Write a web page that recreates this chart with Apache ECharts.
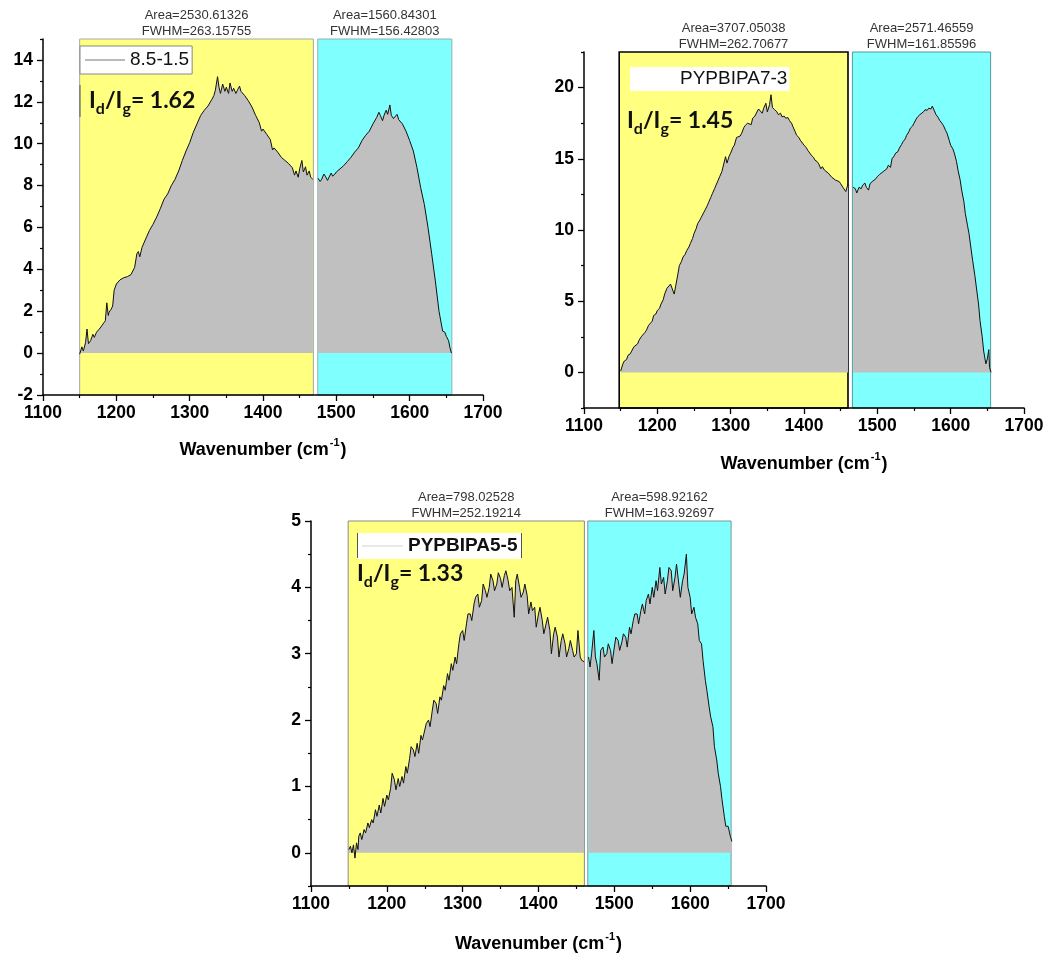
<!DOCTYPE html>
<html>
<head>
<meta charset="utf-8">
<script src="https://cdn.jsdelivr.net/npm/echarts@6/dist/echarts.min.js"></script>
<style>
  html, body { margin: 0; padding: 0; background: #fff; }
  #chart { width: 1049px; height: 956px; }
</style>
</head>
<body>
<div id="chart"></div>
<script>
// Raman spectra: [wavenumber (cm-1), intensity]
const spectrum1 = [
  [1150,-0.05],[1153,0.3],[1155,0.1],[1158,0.5],[1160,1.15],[1162,0.45],[1165,0.6],[1168,0.9],[1170,0.75],[1173,1.0],
  [1175,0.95],[1178,1.2],[1180,1.3],[1183,1.45],[1185,1.55],[1187,2.4],[1189,1.8],[1190,1.95],[1193,2.1],[1195,2.25],
  [1197,3.0],[1200,3.3],[1205,3.5],[1210,3.6],[1215,3.65],[1220,3.75],[1225,4.1],[1228,4.75],[1230,4.85],[1232,4.6],
  [1235,5.05],[1240,5.45],[1245,5.85],[1250,6.15],[1255,6.5],[1260,6.9],[1265,7.35],[1270,7.6],[1275,8.0],[1280,8.3],
  [1285,8.7],[1290,9.2],[1295,9.65],[1300,10.05],[1305,10.55],[1310,10.95],[1315,11.35],[1320,11.6],[1325,11.8],[1330,12.1],
  [1333,12.3],[1335,12.55],[1338,13.2],[1340,12.7],[1342,12.4],[1345,12.85],[1348,12.5],[1350,12.7],[1353,12.4],[1355,12.9],
  [1358,12.5],[1360,12.65],[1363,12.4],[1365,12.55],[1368,12.75],[1370,12.5],[1375,12.3],[1380,12.05],[1385,11.75],[1390,11.35],
  [1395,11.0],[1398,10.6],[1400,10.7],[1405,10.45],[1410,10.2],[1413,9.7],[1415,9.8],[1420,9.6],[1425,9.35],[1430,9.2],
  [1435,9.05],[1440,8.85],[1443,8.5],[1445,8.7],[1448,8.4],[1450,8.8],[1453,9.2],[1455,8.65],[1458,8.9],[1460,8.5],
  [1463,8.7],[1465,8.4],[1468,8.3],
  [1475,8.35],[1478,8.2],[1480,8.3],[1483,8.55],[1485,8.45],[1488,8.25],[1490,8.4],[1493,8.6],[1495,8.45],[1498,8.55],
  [1500,8.65],[1505,8.8],[1510,8.95],[1515,9.15],[1520,9.35],[1525,9.6],[1530,9.8],[1535,10.15],[1540,10.4],[1545,10.6],
  [1550,10.95],[1555,11.25],[1558,11.5],[1560,11.35],[1563,11.1],[1565,11.35],[1568,11.6],[1570,11.4],[1573,11.85],[1575,11.35],
  [1578,11.2],[1580,11.3],[1583,11.4],[1585,11.15],[1590,10.95],[1595,10.6],[1600,10.15],[1605,9.65],[1610,8.85],[1615,7.9],
  [1620,7.1],[1625,6.0],[1630,4.75],[1635,3.45],[1640,2.0],[1645,1.05],[1648,1.0],[1650,0.8],[1653,0.6],[1655,0.25],[1657,0.0]
];
const spectrum2 = [
  [1150,0.1],[1153,0.6],[1155,0.8],[1158,0.9],[1160,1.2],[1163,1.3],[1165,1.5],[1168,1.8],[1170,1.9],[1173,2.0],
  [1175,2.25],[1178,2.5],[1180,2.6],[1183,2.8],[1185,2.95],[1188,3.3],[1190,3.4],[1193,3.6],[1195,4.0],[1198,4.1],
  [1200,4.35],[1203,4.5],[1205,4.8],[1208,5.1],[1210,5.5],[1213,5.9],[1215,5.85],[1218,6.2],[1220,6.1],[1223,5.5],
  [1225,5.4],[1228,6.9],[1230,7.5],[1233,7.8],[1235,8.1],[1238,8.3],[1240,8.55],[1243,8.8],[1245,9.05],[1248,9.4],
  [1250,9.75],[1253,10.1],[1255,10.45],[1258,10.7],[1260,10.9],[1263,11.2],[1265,11.4],[1268,11.7],[1270,11.95],[1273,12.3],
  [1275,12.55],[1278,12.9],[1280,13.15],[1283,13.5],[1285,13.75],[1288,14.1],[1290,14.2],[1293,15.15],[1295,14.7],[1298,15.2],
  [1300,15.4],[1303,15.8],[1305,15.95],[1308,16.5],[1310,16.45],[1313,16.6],[1315,16.8],[1318,17.2],[1320,17.35],[1323,17.5],
  [1325,17.6],[1328,17.4],[1330,17.85],[1333,18.0],[1335,18.1],[1338,18.5],[1340,18.45],[1343,18.2],[1345,18.55],[1348,18.9],
  [1350,18.3],[1353,18.8],[1355,19.5],[1357,18.6],[1360,18.45],[1363,18.3],[1365,18.1],[1368,18.2],[1370,17.95],[1373,18.0],
  [1375,17.85],[1378,17.9],[1380,17.7],[1383,17.5],[1385,17.25],[1388,16.9],[1390,16.65],[1393,16.5],[1395,16.3],[1398,16.1],
  [1400,15.95],[1403,15.8],[1405,15.6],[1408,15.4],[1410,15.25],[1413,15.1],[1415,14.9],[1418,14.8],[1420,14.65],[1423,14.3],
  [1425,14.45],[1428,14.2],[1430,14.1],[1433,14.0],[1435,13.95],[1438,13.7],[1440,13.75],[1443,13.5],[1445,13.6],[1448,13.4],
  [1450,13.25],[1453,13.0],[1455,12.9],[1457,12.7],[1460,13.25],
  [1467,13.0],[1470,12.9],[1472,12.6],[1475,13.0],[1478,12.9],[1480,13.15],[1483,13.3],[1485,13.0],[1488,12.8],[1490,13.25],
  [1493,13.4],[1495,13.5],[1498,13.6],[1500,13.75],[1503,13.9],[1505,13.95],[1508,14.1],[1510,14.2],[1513,14.3],[1515,14.55],
  [1518,14.4],[1520,15.0],[1523,15.2],[1525,15.4],[1528,15.5],[1530,15.75],[1533,16.0],[1535,16.2],[1538,16.4],[1540,16.65],
  [1543,16.9],[1545,17.15],[1548,17.3],[1550,17.5],[1553,17.8],[1555,17.95],[1558,18.1],[1560,18.2],[1563,18.3],[1565,18.45],
  [1568,18.4],[1570,18.55],[1573,18.5],[1575,18.7],[1577,18.8],[1580,18.1],[1583,17.9],[1585,17.7],[1588,17.5],[1590,17.35],
  [1593,17.0],[1595,16.8],[1598,16.3],[1600,15.95],[1603,15.7],[1605,15.4],[1608,14.8],[1610,14.2],[1613,13.5],[1615,12.8],
  [1618,12.0],[1620,11.15],[1623,10.3],[1625,9.75],[1628,8.6],[1630,7.85],[1633,6.8],[1635,6.0],[1638,4.8],[1640,3.65],
  [1643,2.5],[1645,1.5],[1648,0.6],[1650,0.95],[1652,1.6],[1653,0.35],[1655,0.0]
];
const spectrum3 = [
  [1150,0.05],[1152,0.1],[1154,0.0],[1156,0.12],[1158,-0.08],[1160,0.15],[1162,0.05],[1163,0.25],[1165,0.3],[1167,0.2],
  [1170,0.35],[1172,0.3],[1175,0.45],[1177,0.38],[1180,0.5],[1182,0.45],[1185,0.65],[1187,0.55],[1190,0.72],[1192,0.6],
  [1195,0.82],[1197,0.7],[1200,0.87],[1202,0.8],[1205,0.97],[1207,1.2],[1210,1.1],[1212,0.95],[1215,1.12],[1217,1.0],
  [1220,1.15],[1222,1.05],[1225,1.3],[1227,1.2],[1230,1.42],[1232,1.6],[1235,1.55],[1237,1.45],[1240,1.65],[1242,1.5],
  [1245,1.77],[1247,1.7],[1250,1.85],[1252,1.95],[1255,2.0],[1257,1.9],[1260,2.15],[1262,2.3],[1265,2.25],[1267,2.1],
  [1270,2.35],[1272,2.3],[1275,2.52],[1277,2.45],[1280,2.7],[1282,2.6],[1285,2.85],[1287,2.75],[1290,2.95],[1292,2.85],
  [1295,3.15],[1297,3.3],[1300,3.35],[1302,3.2],[1305,3.45],[1307,3.6],[1310,3.6],[1312,3.5],[1315,3.75],[1317,3.85],
  [1320,3.9],[1322,3.7],[1325,3.8],[1327,4.05],[1330,3.95],[1332,3.85],[1335,4.0],[1337,4.2],[1340,4.1],[1342,3.95],
  [1345,4.05],[1347,4.22],[1350,4.13],[1352,4.0],[1355,4.18],[1357,4.25],[1360,4.1],[1362,3.95],[1365,4.0],[1368,3.55],
  [1370,4.1],[1372,4.2],[1375,4.0],[1377,3.85],[1380,3.93],[1382,4.05],[1385,3.88],[1387,3.6],[1390,3.78],[1392,3.65],
  [1395,3.7],[1397,3.4],[1400,3.6],[1402,3.7],[1405,3.5],[1407,3.3],[1410,3.45],[1412,3.55],[1415,3.35],[1417,3.0],
  [1420,3.3],[1422,3.4],[1425,3.25],[1427,2.95],[1430,3.2],[1432,3.3],[1435,3.15],[1437,2.95],[1440,3.08],[1442,3.2],
  [1445,3.05],[1447,2.95],[1450,3.0],[1452,3.35],[1455,2.95],[1457,2.9],[1460,2.88],
  [1466,2.95],[1468,2.8],[1470,3.0],[1473,3.35],[1475,2.95],[1477,2.85],[1480,2.6],[1482,3.05],[1485,3.1],[1487,2.95],
  [1490,3.0],[1492,3.15],[1495,3.05],[1497,2.85],[1500,3.1],[1502,3.25],[1505,3.2],[1507,3.05],[1510,3.18],[1512,3.3],
  [1515,3.25],[1517,3.1],[1520,3.4],[1522,3.3],[1525,3.5],[1527,3.6],[1530,3.6],[1532,3.45],[1535,3.65],[1537,3.75],
  [1540,3.6],[1542,3.8],[1545,3.9],[1547,3.75],[1550,4.0],[1552,3.85],[1555,4.1],[1557,3.95],[1560,4.3],[1562,4.05],
  [1565,4.15],[1567,3.9],[1570,4.1],[1572,4.3],[1575,4.25],[1577,3.95],[1580,4.15],[1582,4.35],[1585,4.05],[1587,3.85],
  [1590,4.1],[1592,4.2],[1595,4.5],[1597,4.0],[1600,3.85],[1602,3.6],[1605,3.7],[1607,3.55],[1610,3.45],[1612,3.2],
  [1615,3.15],[1617,2.9],[1620,2.6],[1622,2.45],[1625,2.2],[1627,2.05],[1630,1.9],[1632,1.6],[1635,1.4],[1637,1.2],
  [1640,1.0],[1642,0.8],[1645,0.55],[1647,0.4],[1650,0.4],[1652,0.3],[1653,0.25],[1655,0.17]
];
const spectra = [spectrum1, spectrum2, spectrum3];

const sampleNames = ['8.5-1.5', 'PYPBIPA7-3', 'PYPBIPA5-5'];
const ratioLabels = ['1.62', '1.45', '1.33'];

// D-band and G-band integration windows (cm-1)
const dBands = [[1150, 1468.7], [1148, 1460], [1149, 1460.5]];
const gBands = [[1474.7, 1657.5], [1466, 1654.5], [1465, 1654]];
const dArea = ['2530.61326', '3707.05038', '798.02528'];
const dFwhm = ['263.15755', '262.70677', '252.19214'];
const gArea = ['1560.84301', '2571.46559', '598.92162'];
const gFwhm = ['156.42803', '161.85596', '163.92697'];

// axis ranges and tick labels
const xRange = [1100, 1700];
const xStep = 100;
const yRanges = [[-2, 15], [-2.5, 22.5], [-0.5, 5]];
const yMajorTicks = [[-2, 0, 2, 4, 6, 8, 10, 12, 14], [0, 5, 10, 15, 20], [0, 1, 2, 3, 4, 5]];
const yMinorTicks = [[-1, 1, 3, 5, 7, 9, 11, 13, 15], [-2.5, 2.5, 7.5, 12.5, 17.5, 22.5], [-0.5, 0.5, 1.5, 2.5, 3.5, 4.5]];

// ---- layout & styling ----
const FONT = '"Liberation Sans", Arial, sans-serif';
const RATIO_FONT = 'Lato, "Open Sans", sans-serif';
const grids = [
  { left: 43, top: 39, width: 440, height: 356 },
  { left: 584, top: 52, width: 440, height: 356 },
  { left: 311, top: 521, width: 455, height: 365 }
];
const bandBorders = [
  { d: { color: '#a8a8a8', width: 1 }, g: { color: '#8fb0b0', width: 1 } },
  { d: { color: '#000', width: 1.6 }, g: { color: '#3b7f7f', width: 0.8 } },
  { d: { color: '#8a8a8a', width: 1 }, g: { color: '#7a9a9a', width: 1 } }
];
const nameGaps = [42, 43, 45];
const legendLayouts = [
  { left: 80, top: 46, borderColor: '#888', borderWidth: 1, lineColor: '#777', bold: false, fontSize: 19,
    itemWidth: 40, padding: [4, 3, 4, 5] },
  { left: 630, top: 67, borderColor: '#fff', borderWidth: 0, lineColor: '#fff', bold: false, fontSize: 19,
    itemWidth: 40, padding: [2, 2, 2, 5] },
  { left: 357, top: 533, borderColor: '#fff', borderWidth: 0, lineColor: '#d4d4d4', bold: true, fontSize: 19,
    itemWidth: 41, padding: [3, 4, 3, 5] }
];
const ratioPos = [[89, 89], [627, 109], [357, 562]];

const chart = echarts.init(document.getElementById('chart'), null, { renderer: 'canvas' });

const xAxes = [], yAxes = [], series = [], legends = [], graphics = [];

grids.forEach((g, p) => {
  xAxes.push({
    type: 'value', gridIndex: p, min: xRange[0], max: xRange[1], interval: xStep, z: 10,
    axisLine: { show: true, onZero: false, lineStyle: { color: '#000', width: 1.5 } },
    axisTick: { show: true, length: 6, lineStyle: { color: '#000', width: 1.3 } },
    minorTick: { show: true, splitNumber: 2, length: 3, lineStyle: { color: '#000', width: 1.2 } },
    splitLine: { show: false },
    axisLabel: { color: '#000', fontFamily: FONT, fontWeight: 'bold', fontSize: 17.5, margin: 9,
                 formatter: v => String(v) },
    name: '{a|Wavenumber (cm}{s|-1}{a|)}',
    nameLocation: 'middle', nameGap: nameGaps[p],
    nameTextStyle: {
      rich: {
        a: { fontFamily: FONT, fontWeight: 'bold', fontSize: 18, color: '#000', lineHeight: 22, verticalAlign: 'bottom' },
        s: { fontFamily: FONT, fontWeight: 'bold', fontSize: 11, color: '#000', lineHeight: 11, verticalAlign: 'top', padding: [0, 1, 11, 1] }
      }
    }
  });
  // main y axis with labelled ticks
  yAxes.push({
    type: 'value', gridIndex: p, position: 'left', min: yRanges[p][0], max: yRanges[p][1], z: 10,
    axisLine: { show: true, onZero: false, lineStyle: { color: '#000', width: 1.5 } },
    axisTick: { show: true, length: 6, customValues: yMajorTicks[p], lineStyle: { color: '#000', width: 1.3 } },
    splitLine: { show: false },
    axisLabel: { color: '#000', fontFamily: FONT, fontWeight: 'bold', fontSize: 17.5, margin: 10,
                 customValues: yMajorTicks[p], formatter: v => String(v) }
  });
  // overlay axis carrying the minor ticks
  yAxes.push({
    type: 'value', gridIndex: p, position: 'left', offset: 0, min: yRanges[p][0], max: yRanges[p][1], z: 10,
    axisLine: { show: false, onZero: false },
    axisTick: { show: true, length: 3, customValues: yMinorTicks[p], lineStyle: { color: '#000', width: 1.2 } },
    splitLine: { show: false },
    axisLabel: { show: false }
  });

  // coloured integration windows with their fit results
  const bb = bandBorders[p];
  series.push({
    name: 'bands' + p, type: 'line', xAxisIndex: p, yAxisIndex: 2 * p, data: [], z: 1, silent: true,
    markArea: {
      silent: true,
      data: [
        [{ xAxis: dBands[p][0], name: 'Area=' + dArea[p] + '\nFWHM=' + dFwhm[p],
           itemStyle: { color: '#ffff80', borderColor: bb.d.color, borderWidth: bb.d.width } },
         { xAxis: dBands[p][1] }],
        [{ xAxis: gBands[p][0], name: 'Area=' + gArea[p] + '\nFWHM=' + gFwhm[p],
           itemStyle: { color: '#80ffff', borderColor: bb.g.color, borderWidth: bb.g.width } },
         { xAxis: gBands[p][1] }]
      ],
      label: { show: true, position: 'top', distance: -1, formatter: '{b}', color: '#333',
               fontFamily: FONT, fontSize: 13, lineHeight: 16, align: 'center' }
    }
  });

  // spectrum, split into the D and G windows, filled down to zero
  const spec = spectra[p];
  const dPart = spec.filter(d => d[0] <= dBands[p][1]);
  const gPart = spec.filter(d => d[0] >= gBands[p][0]);
  [dPart, gPart].forEach(part => {
    series.push({
      name: sampleNames[p], type: 'line', xAxisIndex: p, yAxisIndex: 2 * p, data: part,
      symbol: 'none', z: 3, animation: false,
      lineStyle: { color: '#111', width: 1 },
      areaStyle: { color: '#c0c0c0', opacity: 1 }
    });
  });

  const L = legendLayouts[p];
  legends.push({
    data: [{ name: sampleNames[p], icon: 'rect' }], left: L.left, top: L.top, orient: 'horizontal', selectedMode: false,
    backgroundColor: '#fff', borderColor: L.borderColor, borderWidth: L.borderWidth, borderRadius: 0,
    padding: L.padding, itemWidth: L.itemWidth, itemHeight: 1,
    itemStyle: { color: L.lineColor, borderWidth: 0 },
    textStyle: { fontFamily: FONT, fontSize: L.fontSize, color: '#111', fontWeight: L.bold ? 'bold' : 'normal', lineHeight: 20 }
  });

  graphics.push({
    type: 'text', left: ratioPos[p][0], top: ratioPos[p][1], z: 20,
    style: {
      text: '{n|I}{s|d}{n|/I}{s|g}{n|= ' + ratioLabels[p] + '}',
      rich: {
        n: { fontFamily: RATIO_FONT, fontWeight: 'bold', fontSize: 23, lineHeight: 28, fill: '#111', verticalAlign: 'top' },
        s: { fontFamily: RATIO_FONT, fontWeight: 'bold', fontSize: 16, lineHeight: 16, fill: '#111', verticalAlign: 'top', padding: [12, 0, 0, 0] }
      }
    }
  });
});

// box edges beside the ratio text and the third legend
graphics.push({ type: 'line', z: 20, shape: { x1: 80, y1: 85, x2: 80, y2: 117 }, style: { stroke: '#555', lineWidth: 1 } });
graphics.push({ type: 'line', z: 20, shape: { x1: 357.5, y1: 533, x2: 357.5, y2: 558 }, style: { stroke: '#555', lineWidth: 1 } });
graphics.push({ type: 'line', z: 20, shape: { x1: 521.5, y1: 533, x2: 521.5, y2: 558 }, style: { stroke: '#555', lineWidth: 1 } });

chart.setOption({
  animation: false,
  backgroundColor: '#fff',
  grid: grids,
  xAxis: xAxes,
  yAxis: yAxes,
  legend: legends,
  series: series,
  graphic: graphics
});
</script>
</body>
</html>
